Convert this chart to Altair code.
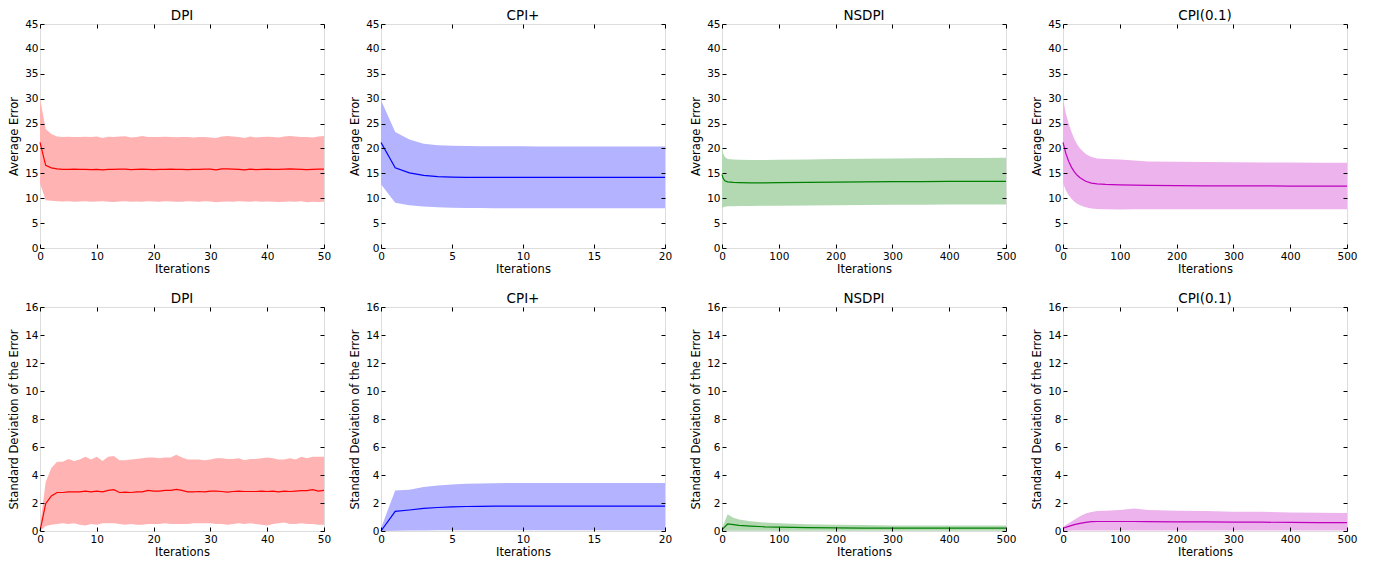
import altair as alt
import pandas as pd

FONT = "DejaVu Sans"

# ---------------- DPI (iterations 0..50) ----------------
DPI_X = list(range(51))
DPI_AVG_MEAN = [21.2, 16.6, 16.1, 15.9, 15.8, 15.8, 15.85, 15.8, 15.8, 15.75, 15.8, 15.7, 15.8, 15.8, 15.85,
                15.85, 15.75, 15.8, 15.85, 15.8, 15.75, 15.8, 15.8, 15.85, 15.8, 15.8, 15.75, 15.8, 15.8, 15.85,
                15.85, 15.7, 15.9, 15.9, 15.85, 15.8, 15.7, 15.85, 15.75, 15.8, 15.85, 15.8, 15.8, 15.85, 15.9,
                15.85, 15.8, 15.75, 15.8, 15.85, 15.85]
DPI_AVG_HI = [30.0, 23.9, 22.9, 22.4, 22.3, 22.35, 22.3, 22.3, 22.35, 22.3, 22.4, 22.1, 22.35, 22.3, 22.4,
              22.45, 22.2, 22.3, 22.5, 22.3, 22.3, 22.3, 22.35, 22.3, 22.25, 22.3, 22.3, 22.2, 22.3, 22.3,
              22.2, 22.1, 22.4, 22.5, 22.4, 22.3, 22.1, 22.4, 22.2, 22.3, 22.35, 22.3, 22.2, 22.4, 22.5,
              22.4, 22.3, 22.3, 22.2, 22.4, 22.5]
DPI_AVG_LO = [13.0, 9.6, 9.5, 9.4, 9.35, 9.4, 9.3, 9.35, 9.4, 9.3, 9.35, 9.4, 9.3, 9.25, 9.35,
              9.4, 9.3, 9.35, 9.3, 9.4, 9.35, 9.3, 9.4, 9.35, 9.3, 9.3, 9.4, 9.35, 9.3, 9.4,
              9.35, 9.2, 9.3, 9.35, 9.3, 9.4, 9.35, 9.3, 9.4, 9.3, 9.35, 9.3, 9.25, 9.3, 9.35,
              9.3, 9.4, 9.2, 9.3, 9.25, 9.3]
DPI_STD_MEAN = [0.0, 1.95, 2.5, 2.75, 2.75, 2.8, 2.8, 2.8, 2.85, 2.8, 2.85, 2.8, 2.9, 2.95, 2.75,
                2.78, 2.75, 2.8, 2.8, 2.9, 2.85, 2.85, 2.9, 2.9, 2.97, 2.9, 2.8, 2.8, 2.82, 2.8,
                2.85, 2.85, 2.82, 2.78, 2.82, 2.85, 2.82, 2.82, 2.82, 2.85, 2.82, 2.85, 2.8, 2.85, 2.82,
                2.85, 2.88, 2.88, 2.95, 2.85, 2.9]
DPI_STD_HI = [0.3, 3.5, 4.5, 4.95, 4.95, 5.15, 5.0, 5.1, 5.3, 5.1, 5.3, 5.0, 5.3, 5.35, 5.05,
              5.05, 5.1, 5.15, 5.2, 5.25, 5.25, 5.2, 5.25, 5.25, 5.45, 5.25, 5.1, 5.1, 5.1, 5.05,
              5.1, 5.2, 5.2, 5.15, 5.15, 5.2, 5.05, 5.15, 5.15, 5.2, 5.25, 5.2, 5.1, 5.1, 5.2,
              5.1, 5.3, 5.2, 5.3, 5.3, 5.3]
DPI_STD_LO = [0.0, 0.35, 0.45, 0.5, 0.55, 0.5, 0.55, 0.45, 0.4, 0.5, 0.45, 0.55, 0.55, 0.55, 0.5,
              0.45, 0.5, 0.45, 0.45, 0.5, 0.5, 0.5, 0.55, 0.5, 0.5, 0.5, 0.5, 0.55, 0.55, 0.55,
              0.55, 0.5, 0.5, 0.45, 0.5, 0.55, 0.5, 0.55, 0.5, 0.45, 0.4, 0.5, 0.55, 0.6, 0.5,
              0.5, 0.55, 0.5, 0.5, 0.45, 0.45]

# ---------------- CPI+ (iterations 0..20) ----------------
CPIP_X = list(range(21))
CPIP_AVG_MEAN = [21.2, 16.1, 15.1, 14.6, 14.35, 14.25, 14.2, 14.2, 14.2, 14.2, 14.2, 14.2, 14.2, 14.2,
                 14.2, 14.2, 14.2, 14.2, 14.2, 14.2, 14.2]
CPIP_AVG_HI = [29.7, 23.3, 21.8, 20.95, 20.65, 20.55, 20.5, 20.45, 20.45, 20.45, 20.45, 20.4, 20.4, 20.4,
               20.4, 20.4, 20.4, 20.4, 20.4, 20.4, 20.4]
CPIP_AVG_LO = [12.8, 9.1, 8.6, 8.35, 8.2, 8.1, 8.05, 8.05, 8.0, 8.0, 8.0, 8.0, 8.0, 8.0,
               8.0, 8.0, 8.0, 8.0, 8.0, 8.0, 8.0]
CPIP_STD_MEAN = [0.0, 1.4, 1.5, 1.62, 1.68, 1.72, 1.75, 1.76, 1.77, 1.77, 1.77, 1.77, 1.77, 1.77,
                 1.77, 1.77, 1.77, 1.77, 1.77, 1.77, 1.77]
CPIP_STD_HI = [0.2, 2.9, 2.95, 3.15, 3.25, 3.32, 3.38, 3.4, 3.41, 3.42, 3.42, 3.42, 3.42, 3.42,
               3.42, 3.42, 3.42, 3.42, 3.42, 3.42, 3.42]
CPIP_STD_LO = [0.0, 0.02, 0.03, 0.04, 0.05, 0.05, 0.05, 0.05, 0.05, 0.05, 0.05, 0.05, 0.05, 0.05,
               0.05, 0.05, 0.05, 0.05, 0.05, 0.05, 0.05]

# ---------------- NSDPI (iterations 0..500) ----------------
NS_AVG_X = [0, 2, 5, 10, 20, 30, 50, 75, 100, 150, 200, 250, 300, 350, 400, 450, 500]
NS_AVG_MEAN = [14.8, 14.0, 13.5, 13.3, 13.2, 13.15, 13.1, 13.1, 13.15, 13.2, 13.25, 13.3, 13.35, 13.35,
               13.4, 13.4, 13.4]
NS_AVG_HI = [20.0, 19.0, 18.3, 17.9, 17.8, 17.75, 17.7, 17.7, 17.75, 17.8, 17.9, 17.95, 18.0, 18.05,
             18.1, 18.1, 18.15]
NS_AVG_LO = [8.0, 8.2, 8.3, 8.4, 8.4, 8.45, 8.45, 8.5, 8.5, 8.55, 8.6, 8.65, 8.7, 8.7, 8.75, 8.75, 8.75]
NS_STD_X = [0, 10, 20, 30, 50, 75, 100, 150, 200, 250, 300, 350, 400, 450, 500]
NS_STD_MEAN = [0.1, 0.5, 0.45, 0.4, 0.35, 0.3, 0.28, 0.24, 0.22, 0.21, 0.2, 0.2, 0.2, 0.2, 0.2]
NS_STD_HI = [0.2, 1.2, 0.95, 0.82, 0.7, 0.6, 0.55, 0.48, 0.45, 0.42, 0.4, 0.4, 0.4, 0.4, 0.4]
NS_STD_LO = [0.0, 0.02, 0.02, 0.02, 0.02, 0.02, 0.02, 0.02, 0.02, 0.02, 0.02, 0.02, 0.02, 0.02, 0.02]

# ---------------- CPI(0.1) (iterations 0..500) ----------------
C01_AVG_X = [0, 5, 10, 15, 20, 25, 30, 40, 50, 60, 75, 100, 125, 150, 200, 250, 300, 350, 400, 450, 500]
C01_AVG_MEAN = [21.2, 19.0, 17.4, 16.2, 15.3, 14.6, 14.1, 13.4, 13.05, 12.9, 12.8, 12.7, 12.65, 12.6,
                12.55, 12.5, 12.5, 12.5, 12.45, 12.45, 12.45]
C01_AVG_HI = [30.0, 27.0, 25.0, 23.3, 21.9, 20.8, 20.0, 18.9, 18.3, 18.0, 17.9, 17.8, 17.6, 17.4,
              17.35, 17.3, 17.25, 17.2, 17.2, 17.15, 17.15]
C01_AVG_LO = [13.0, 11.6, 10.6, 9.9, 9.3, 8.9, 8.6, 8.2, 7.95, 7.85, 7.8, 7.75, 7.8, 7.8,
              7.8, 7.8, 7.8, 7.8, 7.8, 7.8, 7.8]
C01_STD_X = [0, 10, 20, 30, 40, 50, 60, 75, 100, 125, 150, 200, 250, 300, 350, 400, 450, 500]
C01_STD_MEAN = [0.2, 0.33, 0.45, 0.55, 0.62, 0.67, 0.68, 0.68, 0.68, 0.68, 0.67, 0.65, 0.65, 0.63,
                0.63, 0.61, 0.6, 0.6]
C01_STD_HI = [0.3, 0.55, 0.8, 1.05, 1.25, 1.35, 1.42, 1.45, 1.5, 1.6, 1.5, 1.45, 1.42, 1.38,
              1.38, 1.33, 1.3, 1.28]
C01_STD_LO = [0.0, 0.02, 0.03, 0.03, 0.03, 0.03, 0.03, 0.03, 0.03, 0.03, 0.03, 0.03, 0.03, 0.03,
              0.03, 0.03, 0.03, 0.03]

TITLES = ["DPI", "CPI+", "NSDPI", "CPI(0.1)"]
LINE_COLORS = ["#ff0000", "#0000ff", "#008000", "#bf00bf"]
BAND_COLORS = ["#ffb3b3", "#b3b3ff", "#b3d9b3", "#ecb3ec"]
X_MAX = [50, 20, 500, 500]
X_STEP = [10, 5, 100, 100]

PW, PH = 284, 224


def make_panel(xs, mean, lo, hi, color, band, title, ytitle, ymax, ystep, xmax, xstep):
    df = pd.DataFrame({"x": xs, "mean": mean, "lo": lo, "hi": hi})
    yvals = list(range(0, ymax + 1, ystep))
    xvals = list(range(0, xmax + 1, xstep))
    xscale = alt.Scale(domain=[0, xmax], nice=False, zero=False)
    yscale = alt.Scale(domain=[0, ymax], nice=False, zero=False)
    common = dict(grid=False, tickColor="black", tickWidth=1, tickSize=4, offset=-4,
                  domain=False, zindex=1, labelFont=FONT, labelFontSize=10.5,
                  labelColor="black", titleFont=FONT, titleFontSize=11.5,
                  titleFontWeight="normal", titleColor="black", labelFlush=False,
                  labelOverlap=False, labelBound=False)
    bottom = alt.Axis(orient="bottom", values=xvals, title="Iterations", labelPadding=3,
                      titlePadding=2, **common)
    left = alt.Axis(orient="left", values=yvals, title=ytitle, labelPadding=2,
                    titlePadding=5, **common)
    top = alt.Axis(orient="top", values=xvals, title=None, labels=False, **common)
    right = alt.Axis(orient="right", values=yvals, title=None, labels=False, **common)
    base = alt.Chart(df)
    area = base.mark_area(color=band, opacity=1).encode(
        x=alt.X("x:Q", scale=xscale, axis=bottom),
        y=alt.Y("lo:Q", scale=yscale, axis=left),
        y2="hi:Q",
    )
    line = base.mark_line(color=color, strokeWidth=1.2).encode(
        x=alt.X("x:Q", scale=xscale, axis=top),
        y=alt.Y("mean:Q", scale=yscale, axis=right),
    )
    return alt.layer(area, line).resolve_axis(x="independent", y="independent").properties(
        width=PW, height=PH,
        title=alt.TitleParams(title, font=FONT, fontSize=13.5, fontWeight="normal",
                              color="black", offset=-3),
    )


avg_data = [
    (DPI_X, DPI_AVG_MEAN, DPI_AVG_LO, DPI_AVG_HI),
    (CPIP_X, CPIP_AVG_MEAN, CPIP_AVG_LO, CPIP_AVG_HI),
    (NS_AVG_X, NS_AVG_MEAN, NS_AVG_LO, NS_AVG_HI),
    (C01_AVG_X, C01_AVG_MEAN, C01_AVG_LO, C01_AVG_HI),
]
std_data = [
    (DPI_X, DPI_STD_MEAN, DPI_STD_LO, DPI_STD_HI),
    (CPIP_X, CPIP_STD_MEAN, CPIP_STD_LO, CPIP_STD_HI),
    (NS_STD_X, NS_STD_MEAN, NS_STD_LO, NS_STD_HI),
    (C01_STD_X, C01_STD_MEAN, C01_STD_LO, C01_STD_HI),
]

panels = []
for i, (xs, m, lo, hi) in enumerate(avg_data):
    panels.append(make_panel(xs, m, lo, hi, LINE_COLORS[i], BAND_COLORS[i], TITLES[i],
                             "Average Error", 45, 5, X_MAX[i], X_STEP[i]))
for i, (xs, m, lo, hi) in enumerate(std_data):
    panels.append(make_panel(xs, m, lo, hi, LINE_COLORS[i], BAND_COLORS[i], TITLES[i],
                             "Standard Deviation of the Error", 16, 2, X_MAX[i], X_STEP[i]))

chart = alt.concat(*panels, columns=4, spacing={"row": 59, "column": 57}, bounds="flush").properties(
    padding={"left": 0, "top": 0, "right": 5, "bottom": 5}
).configure_view(
    stroke="black", strokeWidth=1
).configure_title(
    fontWeight="normal", font=FONT, fontSize=13.5, color="black"
).configure(background="white")

chart.save("out.html", embed_options={"renderer": "svg", "actions": False})
